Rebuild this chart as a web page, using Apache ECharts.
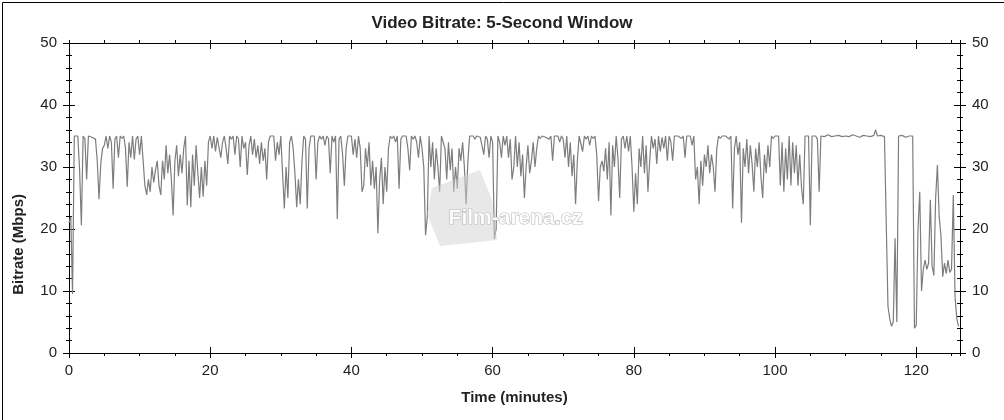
<!DOCTYPE html>
<html>
<head>
<meta charset="utf-8">
<script src="https://cdn.jsdelivr.net/npm/echarts@6/dist/echarts.min.js"></script>
<style>
html,body{margin:0;padding:0;background:#fff;}
#chart{width:1004px;height:420px;}
</style>
</head>
<body>
<div id="chart"></div>
<script>
// Chart texts
const titleText = 'Video Bitrate: 5-Second Window';
const xName = 'Time (minutes)';
const yName = 'Bitrate (Mbps)';
const watermark = 'Film-arena.cz';

// Axis ranges / ticks
const xMax = 126.2;      // minutes
const xMajor = 20;
const xMinor = 5;
const yMax = 50;
const yMajor = 10;

// Sampling step of the bitrate values (minutes)
const STEP_MIN = 0.25;

// Video bitrate (Mbps), one value every 15 seconds
const bitrate = [
  21,22,9.5,35,34.8,35,29.5,20.6,35,34.6,28,35,35.2,34.8,35,34.5,31,24.8,30.5,33,
  33.5,35,33,35,34,26.5,34.5,35,31.5,35,34.6,35,33,26.8,34,31.5,35,31.2,34.5,35,
  32,35,31,27,25.5,28,26,30,27.5,29.5,31,27,25.5,31,28,33.5,29,32,28,22.2,
  31,33.5,28.5,32,29,33,35,23.8,31,23.5,32,27,33.5,29,25,30,25.2,31,27,34,
  35,33,35,32.5,34.8,35,31.5,34,35,33,30.5,35,34.5,35,32,35,34.6,30,35,33,
  34,28.7,33.5,35,32,34.5,31.5,33.5,30.5,34,31,33,28,34,35,34.8,35,31,34,32,
  35,29,23.3,30,25,34,35,33,29,23.5,28,24,31,35,34.5,23.3,33,35,34.8,35,
  28,34,35,34.5,35,33.5,35,34.6,29,35,34,35,21.6,34.5,35,32,27,33,35,34.8,
  35,32,34.5,31.5,35,33,26,27,33,30,34,27,31,26.5,30,19.3,28,31.5,24,30,
  26,33,35,34.6,35,34,35,26.5,34.5,35,34.8,35,33,29.5,35,34.5,35,34,31.5,35,
  33,30,19,22,35,30,34,28,33,30,26,35,34.8,33,28,34,29.5,33,26,30,
  26.5,33,31,34,30,24,31,35,34.8,35,34.5,35,35.2,34.8,35,32,35,34.5,31.5,35,
  34,18.4,20,35,34,31.5,35,33.5,35,31.5,34.5,28,30,35,30,34,28.5,32,25,30,
  33.5,29,31,34,30,33,35,34.6,35,35.2,34.8,35,34.5,35,31,35,34.8,35,34,35,
  34.5,31.5,35,30,34,28.5,32,24,31,35,34.8,32.5,35,34.5,35,33.5,35,34.6,35,32,
  24.5,30,31,29.3,33,28,34,22.2,33.5,30,35,31.5,25,34.5,35,33,35,32.5,35,30,
  22.8,29,24,33,30,35,29,33.5,26,31,35,33,34.5,30.5,35,32.5,34.8,33,35,31,
  35,34,31,35,34.8,35,35.2,34.6,35,31.5,35,34.8,35,33.5,35,28,30,24,31,27,
  32,30,33.5,29,32,30,26,33,35,34.6,35,34.8,35,35.2,34.5,35,23.3,33,35,32,
  34,21,33,30,34.5,29,33.5,30.5,26,33,30,34,28.5,25,32,29,33.5,30,35,34.6,
  35,34.8,35,27,34,26,33,28,35,27,34,29,33.5,27,32,26.7,24,35,34.8,35,
  20.6,35,34.8,35,34.5,26,35,35.1,34.9,35,35.2,35,34.9,35.1,35,34.8,35.1,35,34.9,35.1,
  35,35.1,34.9,35,35.2,34.9,35,35.1,34.8,35,35.1,34.9,35,35.2,34.9,35,35.1,36,35,34.9,
  35.1,35,34.9,35,7.5,5.5,4.3,5,18.5,5,35,34.9,35.1,35,34.8,35.1,35,34.9,35,4.0,
  4.5,20,26,10,13.5,15,13.5,14.5,24.7,14,12.5,25,30.3,22,19,12.3,14.5,12.8,15,13,
  13.5,25.5,9,5.5,4.3
];

const seriesData = bitrate.map((v, i) => [i * STEP_MIN, v]);

const FONT = '"Liberation Sans", Arial, sans-serif';
const AX = '#000';

function xAx(pos, interval, inside, len, labels) {
  return {
    type: 'value', position: pos, min: 0, max: xMax, interval: interval,
    axisLine: { show: true, onZero: false, lineStyle: { color: AX, width: 1 } },
    axisTick: { show: true, inside: inside, length: len, lineStyle: { color: AX } },
    axisLabel: labels ? { show: true, fontSize: 15, color: '#222', margin: 10, fontFamily: FONT, showMaxLabel: false } : { show: false },
    splitLine: { show: false }
  };
}
function yAx(pos, inside, labels) {
  return {
    type: 'value', position: pos, min: 0, max: yMax, interval: yMajor,
    axisLine: { show: true, onZero: false, lineStyle: { color: AX, width: 1 } },
    axisTick: { show: true, inside: inside, length: 6, lineStyle: { color: AX } },
    minorTick: { show: true, splitNumber: 5, length: 3, lineStyle: { color: AX } },
    axisLabel: labels ? { show: true, fontSize: 15, color: '#222', margin: 12, fontFamily: FONT } : { show: false },
    splitLine: { show: false }, minorSplitLine: { show: false }
  };
}

const xMainAxis = xAx('bottom', xMajor, false, 5, true);
xMainAxis.name = xName;
xMainAxis.nameLocation = 'middle';
xMainAxis.nameGap = 37;
xMainAxis.nameTextStyle = { fontSize: 15, fontWeight: 'bold', color: '#222', fontFamily: FONT };

const chart = echarts.init(document.getElementById('chart'), null, { renderer: 'canvas' });
chart.setOption({
  backgroundColor: '#fff',
  animation: false,
  title: {
    text: titleText, left: 'center', top: 10,
    textStyle: { fontSize: 17, fontWeight: 'bold', color: '#222', fontFamily: FONT }
  },
  grid: { left: 69, right: 44, top: 43, bottom: 67, containLabel: false },
  xAxis: [
    xMainAxis,
    xAx('bottom', xMajor, true, 6, false),
    xAx('bottom', xMinor, false, 3, false),
    xAx('top', xMajor, false, 3, false),
    xAx('top', xMajor, true, 6, false),
    xAx('top', xMinor, false, 3, false)
  ],
  yAxis: [
    yAx('left', false, true),
    yAx('left', true, false),
    yAx('right', false, true),
    yAx('right', true, false)
  ],
  series: [{
    type: 'line', xAxisIndex: 0, yAxisIndex: 0,
    data: seriesData, showSymbol: false, symbol: 'none',
    lineStyle: { color: '#7d7d7d', width: 1.2 }, z: 2
  }],
  graphic: [
    { type: 'rect', left: 0, top: 0, shape: { width: 1003, height: 419 },
      style: { fill: 'none', stroke: '#000', lineWidth: 1 }, silent: true, z: 100 },
    { type: 'text', left: 11, top: 194, rotation: Math.PI / 2,
      style: { text: yName, fill: '#222', font: 'bold 15px "Liberation Sans", Arial, sans-serif' }, z: 50 },
    { type: 'polygon', shape: { points: [[432,188],[480,170],[492,200],[497,240],[440,246],[427,214]] },
      style: { fill: 'rgba(210,210,210,0.5)' }, silent: true, z: 40 },
    { type: 'text', left: 448, top: 207,
      style: { text: watermark, font: 'bold 21px "Liberation Sans", Arial, sans-serif',
               fill: 'rgba(255,255,255,0.9)', stroke: 'rgba(185,185,185,0.95)', lineWidth: 1.2 }, silent: true, z: 41 }
  ]
});
</script>
</body>
</html>
